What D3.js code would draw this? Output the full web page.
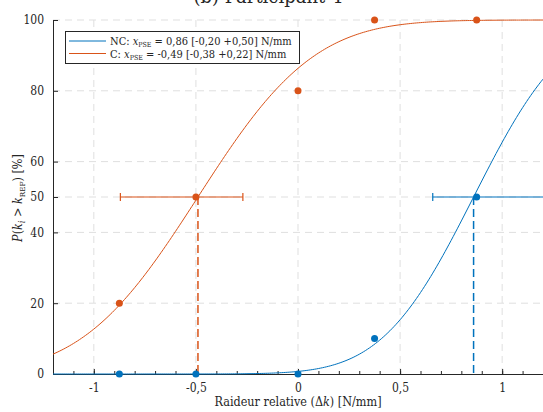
<!DOCTYPE html>
<html>
<head>
<meta charset="utf-8">
<script src="https://cdn.jsdelivr.net/npm/d3@7"></script>
<style>
  body { margin: 0; background: #fff; }
  svg text { font-family: "DejaVu Serif Condensed", "DejaVu Serif", serif; }
</style>
</head>
<body>
<div id="chart"></div>
<script>
// stimulus levels (N/mm)
const levels = [-0.875, -0.5, 0, 0.375, 0.875];
// proportions answered "stiffer" (%)
const pctNC = [0, 0, 0, 10, 50];
const pctC = [20, 50, 80, 100, 100];
// fitted PSE, CI bounds and slope of the cumulative gaussians
const series = ["NC", "C"];
const pse = [0.86, -0.49];
const ciLow = [-0.20, -0.38];
const ciHigh = [0.50, 0.22];
const sigma = [0.352, 0.447];
const colors = ["#0072BD", "#D95319"];
const xTicks = [-1, -0.5, 0, 0.5, 1];
const yTicks = [0, 20, 40, 50, 60, 80, 100];

const width = 543, height = 412;
const mLeft = 53, mRight = 543, mTop = 20, mBottom = 374;
const serif = '"DejaVu Serif Condensed", "DejaVu Serif", serif';

const svg = d3.select("#chart").append("svg")
  .attr("width", width).attr("height", height)
  .attr("font-family", serif);

const x = d3.scaleLinear().domain([-1.2, 1.2]).range([mLeft, mRight]);
const y = d3.scaleLinear().domain([0, 100]).range([mBottom, mTop]);

// erf approximation for the normal cdf
function erf(v) {
  const s = v < 0 ? -1 : 1; v = Math.abs(v);
  const t = 1 / (1 + 0.3275911 * v);
  const p = t * (0.254829592 + t * (-0.284496736 + t * (1.421413741 + t * (-1.453152027 + t * 1.061405429))));
  return s * (1 - p * Math.exp(-v * v));
}
const cdf = (v, m, s) => 50 * (1 + erf((v - m) / (s * Math.SQRT2)));

svg.append("defs").append("clipPath").attr("id", "clip")
  .append("rect").attr("x", mLeft).attr("y", mTop - 6)
  .attr("width", mRight - mLeft).attr("height", mBottom - mTop + 12);

// title, mostly cut off at the top
svg.append("text")
  .attr("x", 268).attr("y", 3)
  .attr("text-anchor", "middle")
  .attr("font-size", 20).attr("fill", "#262626")
  .text("(b) Participant 4");

// grid
const grid = svg.append("g").attr("stroke", "#dfdfdf").attr("stroke-dasharray", "7,5");
grid.selectAll(".gx").data(xTicks).enter().append("line")
  .attr("x1", d => x(d)).attr("x2", d => x(d))
  .attr("y1", mTop).attr("y2", mBottom);
grid.selectAll(".gy").data(yTicks.filter(d => d > 0)).enter().append("line")
  .attr("x1", mLeft).attr("x2", mRight)
  .attr("y1", d => y(d)).attr("y2", d => y(d));

// axes
const xAxis = svg.append("g")
  .attr("transform", "translate(0," + mBottom + ")")
  .call(d3.axisBottom(x).tickValues(xTicks).tickSizeInner(-5).tickSizeOuter(0).tickPadding(9)
    .tickFormat(d => String(d).replace(".", ",")))
  .attr("font-family", serif).attr("font-size", 12);
xAxis.select(".domain").attr("stroke", "#262626");
xAxis.selectAll(".tick line").attr("stroke", "#262626");
xAxis.selectAll(".tick text").attr("fill", "#262626");

svg.append("g")
  .attr("transform", "translate(0," + mBottom + ")")
  .call(d3.axisBottom(x).tickValues(d3.range(-12, 13).map(d => d / 10)).tickSizeInner(-3).tickSizeOuter(0).tickFormat(""))
  .call(g => g.select(".domain").remove())
  .selectAll(".tick line").attr("stroke", "#262626");

const yAxis = svg.append("g")
  .attr("transform", "translate(" + mLeft + ",0)")
  .call(d3.axisLeft(y).tickValues(yTicks).tickSizeInner(-5).tickSizeOuter(0).tickPadding(9))
  .attr("font-family", serif).attr("font-size", 12);
yAxis.select(".domain").attr("stroke", "#262626");
yAxis.selectAll(".tick line").attr("stroke", "#262626");
yAxis.selectAll(".tick text").attr("fill", "#262626");

// axis labels
svg.append("text")
  .attr("x", 298).attr("y", 406)
  .attr("text-anchor", "middle").attr("font-size", 12.5).attr("fill", "#262626")
  .html('Raideur relative (Δ<tspan font-style="italic">k</tspan>) [N/mm]');

svg.append("text")
  .attr("transform", "translate(22,198) rotate(-90)")
  .attr("text-anchor", "middle").attr("font-size", 12.5).attr("fill", "#262626")
  .html('<tspan font-style="italic">P</tspan>(<tspan font-style="italic">k</tspan><tspan font-size="9" dy="3" font-style="italic">i</tspan>' +
        '<tspan dy="-3"> &gt; </tspan><tspan font-style="italic">k</tspan><tspan font-size="8" dy="3">REF</tspan><tspan dy="-3">) [%]</tspan>');

const plot = svg.append("g").attr("clip-path", "url(#clip)");

const xs = d3.range(0, 241).map(i => -1.2 + i * 0.01);
const line = d3.line().x(d => x(d[0])).y(d => y(d[1]));

series.forEach((name, i) => {
  const col = colors[i];
  const pct = i === 0 ? pctNC : pctC;

  // fitted curve
  plot.append("path")
    .datum(xs.map(v => [v, cdf(v, pse[i], sigma[i])]))
    .attr("fill", "none").attr("stroke", col).attr("stroke-width", 1)
    .attr("d", line);

  // PSE drop line
  plot.append("line")
    .attr("x1", x(pse[i])).attr("x2", x(pse[i]))
    .attr("y1", y(50)).attr("y2", y(0))
    .attr("stroke", col).attr("stroke-width", 1.5).attr("stroke-dasharray", "8,4");

  // confidence interval
  const x0 = x(pse[i] + ciLow[i]), x1 = x(pse[i] + ciHigh[i]);
  const eb = plot.append("g").attr("stroke", col).attr("stroke-width", 1.2);
  eb.append("line").attr("x1", x0).attr("x2", x1).attr("y1", y(50)).attr("y2", y(50));
  [x0, x1].forEach(xx => eb.append("line").attr("x1", xx).attr("x2", xx)
    .attr("y1", y(50) - 4).attr("y2", y(50) + 4));

  // observed points
  svg.selectAll(".pt" + name).data(levels).enter().append("circle")
    .attr("cx", d => x(d)).attr("cy", (d, j) => y(pct[j]))
    .attr("r", 3.5).attr("fill", col);
});

// legend
const lg = svg.append("g");
lg.append("rect").attr("x", 65.5).attr("y", 31.5).attr("width", 234).attr("height", 32)
  .attr("fill", "#fff").attr("stroke", "#262626").attr("stroke-width", 1);
const legendText = [
  ["NC: ", " = 0,86 [-0,20 +0,50] N/mm"],
  ["C: ", " = -0,49 [-0,38 +0,22] N/mm"]
];
series.forEach((name, i) => {
  const yy = 41 + i * 12.5;
  lg.append("line").attr("x1", 69).attr("x2", 106).attr("y1", yy).attr("y2", yy)
    .attr("stroke", colors[i]).attr("stroke-width", 1);
  lg.append("text").attr("x", 110).attr("y", yy + 4)
    .attr("font-size", 11).attr("fill", "#262626")
    .html(legendText[i][0] + '<tspan font-style="italic">x</tspan><tspan font-size="7" dy="2">PSE</tspan><tspan dy="-2">' + legendText[i][1] + '</tspan>');
});
</script>
</body>
</html>
